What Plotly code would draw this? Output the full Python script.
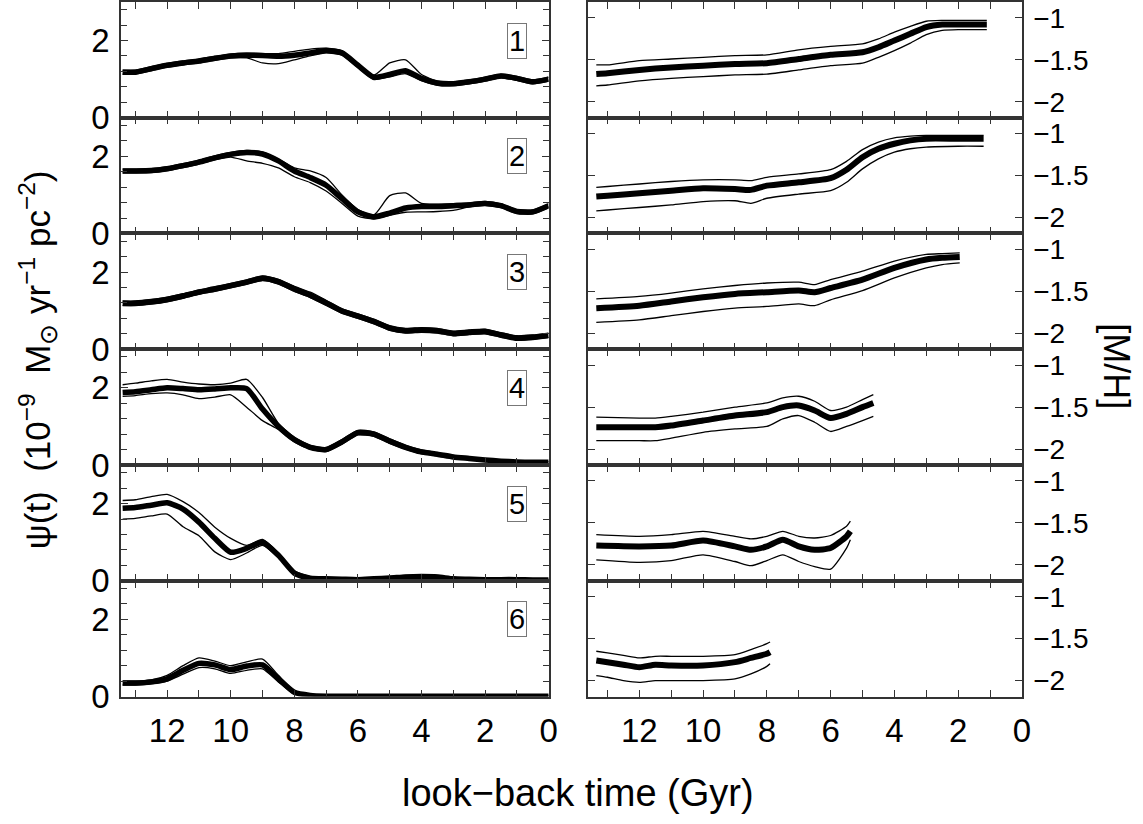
import plotly.graph_objects as go

# ---------------- data ----------------
T_LEFT = [13.4, 13, 12.5, 12, 11.5, 11, 10.5, 10, 9.5, 9, 8.5, 8, 7.5, 7, 6.5, 6,
          5.5, 5, 4.5, 4, 3.5, 3, 2.5, 2, 1.5, 1, 0.5, 0]

sfr1_main = [1.18, 1.18, 1.27, 1.36, 1.42, 1.47, 1.54, 1.60, 1.62, 1.61, 1.59, 1.62, 1.68, 1.74, 1.68, 1.36,
             1.05, 1.12, 1.22, 1.02, 0.90, 0.88, 0.93, 1.00, 1.08, 1.02, 0.93, 1.00]
sfr1_hi = [1.23, 1.23, 1.32, 1.41, 1.47, 1.52, 1.59, 1.65, 1.67, 1.66, 1.66, 1.72, 1.78, 1.80, 1.73, 1.41,
           1.10, 1.42, 1.50, 1.12, 0.95, 0.93, 0.98, 1.05, 1.13, 1.07, 0.98, 1.05]
sfr1_lo = [1.13, 1.13, 1.22, 1.31, 1.37, 1.42, 1.49, 1.55, 1.55, 1.42, 1.40, 1.50, 1.60, 1.68, 1.62, 1.30,
           0.99, 1.06, 1.14, 0.96, 0.84, 0.83, 0.88, 0.95, 1.03, 0.97, 0.88, 0.95]

sfr2_main = [1.62, 1.62, 1.63, 1.68, 1.76, 1.85, 1.96, 2.05, 2.10, 2.06, 1.88, 1.62, 1.45, 1.25, 0.90, 0.56,
             0.43, 0.53, 0.66, 0.70, 0.70, 0.72, 0.74, 0.78, 0.72, 0.57, 0.56, 0.72]
sfr2_hi = [1.67, 1.67, 1.68, 1.73, 1.81, 1.90, 2.01, 2.10, 2.15, 2.11, 1.93, 1.70, 1.62, 1.45, 1.00, 0.62,
           0.48, 0.98, 1.05, 0.78, 0.76, 0.77, 0.79, 0.83, 0.77, 0.62, 0.61, 0.77]
sfr2_lo = [1.57, 1.57, 1.58, 1.63, 1.71, 1.80, 1.91, 1.98, 1.88, 1.82, 1.70, 1.47, 1.32, 1.10, 0.78, 0.45,
           0.38, 0.47, 0.55, 0.56, 0.57, 0.60, 0.69, 0.73, 0.67, 0.52, 0.51, 0.67]

sfr3_main = [1.19, 1.19, 1.23, 1.29, 1.38, 1.48, 1.56, 1.65, 1.74, 1.84, 1.75, 1.56, 1.40, 1.20, 0.99, 0.86,
             0.72, 0.55, 0.48, 0.50, 0.48, 0.41, 0.44, 0.46, 0.37, 0.29, 0.31, 0.36]
sfr3_hi = [1.25, 1.25, 1.29, 1.35, 1.44, 1.54, 1.62, 1.71, 1.80, 1.90, 1.81, 1.63, 1.48, 1.27, 1.05, 0.92,
           0.78, 0.61, 0.54, 0.56, 0.54, 0.47, 0.50, 0.52, 0.43, 0.35, 0.37, 0.42]
sfr3_lo = [1.13, 1.13, 1.17, 1.23, 1.32, 1.42, 1.50, 1.59, 1.68, 1.78, 1.69, 1.50, 1.34, 1.14, 0.93, 0.80,
           0.66, 0.49, 0.42, 0.44, 0.42, 0.35, 0.38, 0.40, 0.31, 0.23, 0.25, 0.30]

sfr4_main = [1.88, 1.90, 1.95, 2.00, 1.98, 1.95, 1.97, 2.00, 1.98, 1.45, 1.00, 0.66, 0.46, 0.40, 0.60, 0.84,
             0.80, 0.62, 0.46, 0.34, 0.28, 0.21, 0.17, 0.13, 0.10, 0.08, 0.07, 0.07]
sfr4_hi = [2.08, 2.12, 2.18, 2.22, 2.15, 2.10, 2.08, 2.12, 2.22, 1.75, 1.08, 0.72, 0.51, 0.45, 0.66, 0.90,
           0.86, 0.68, 0.51, 0.39, 0.32, 0.25, 0.20, 0.16, 0.13, 0.11, 0.09, 0.09]
sfr4_lo = [1.78, 1.80, 1.85, 1.87, 1.82, 1.72, 1.76, 1.82, 1.50, 1.15, 0.92, 0.60, 0.41, 0.35, 0.54, 0.78,
           0.74, 0.56, 0.41, 0.29, 0.24, 0.17, 0.14, 0.10, 0.07, 0.05, 0.04, 0.04]

sfr5_main = [1.88, 1.90, 1.96, 2.02, 1.86, 1.52, 1.10, 0.74, 0.84, 1.00, 0.66, 0.20, 0.07, 0.05, 0.04, 0.03,
             0.05, 0.07, 0.10, 0.11, 0.10, 0.05, 0.04, 0.03, 0.03, 0.03, 0.02, 0.02]
sfr5_hi = [2.08, 2.10, 2.18, 2.24, 2.05, 1.77, 1.39, 1.10, 0.92, 1.07, 0.72, 0.26, 0.11, 0.08, 0.07, 0.06,
           0.08, 0.11, 0.14, 0.15, 0.14, 0.08, 0.07, 0.06, 0.05, 0.05, 0.04, 0.04]
sfr5_lo = [1.60, 1.62, 1.68, 1.73, 1.40, 1.17, 0.75, 0.55, 0.72, 0.92, 0.60, 0.15, 0.03, 0.01, 0.01, 0.00,
           0.02, 0.04, 0.06, 0.07, 0.06, 0.02, 0.01, 0.00, 0.00, 0.00, 0.00, 0.00]

sfr6_main = [0.35, 0.35, 0.38, 0.46, 0.68, 0.86, 0.82, 0.70, 0.79, 0.82, 0.46, 0.11, 0.03, 0.01, 0.01, 0.01,
             0.01, 0.01, 0.01, 0.01, 0.01, 0.01, 0.01, 0.01, 0.01, 0.01, 0.01, 0.01]
sfr6_hi = [0.40, 0.40, 0.43, 0.55, 0.80, 1.00, 0.92, 0.80, 0.90, 0.97, 0.55, 0.15, 0.05, 0.03, 0.03, 0.03,
           0.03, 0.03, 0.03, 0.03, 0.03, 0.03, 0.03, 0.03, 0.03, 0.03, 0.03, 0.03]
sfr6_lo = [0.30, 0.30, 0.33, 0.40, 0.58, 0.75, 0.72, 0.60, 0.68, 0.72, 0.38, 0.06, 0.01, 0.00, 0.00, 0.00,
           0.00, 0.00, 0.00, 0.00, 0.00, 0.00, 0.00, 0.00, 0.00, 0.00, 0.00, 0.00]

mh1_t = [13.35, 13, 12, 11, 10, 9, 8, 7, 6, 5, 4.5, 4, 3.5, 3, 2.5, 2, 1.5, 1.1]
mh1_main = [-1.67, -1.66, -1.62, -1.59, -1.57, -1.55, -1.54, -1.49, -1.44, -1.41, -1.35, -1.27, -1.19, -1.11, -1.08, -1.08, -1.08, -1.08]
mh1_hi = [-1.56, -1.56, -1.51, -1.49, -1.47, -1.45, -1.44, -1.38, -1.34, -1.31, -1.25, -1.17, -1.10, -1.04, -1.03, -1.03, -1.03, -1.03]
mh1_lo = [-1.81, -1.80, -1.75, -1.72, -1.70, -1.68, -1.67, -1.62, -1.57, -1.54, -1.47, -1.39, -1.30, -1.20, -1.15, -1.14, -1.14, -1.14]

mh2_t = [13.35, 13, 12, 11, 10, 9, 8.5, 8, 7, 6, 5.5, 5, 4.5, 4, 3.5, 3, 2, 1.2]
mh2_main = [-1.75, -1.74, -1.71, -1.68, -1.65, -1.66, -1.67, -1.62, -1.58, -1.53, -1.43, -1.28, -1.18, -1.12, -1.08, -1.06, -1.06, -1.06]
mh2_hi = [-1.64, -1.63, -1.60, -1.57, -1.55, -1.55, -1.56, -1.52, -1.48, -1.43, -1.33, -1.19, -1.10, -1.05, -1.03, -1.02, -1.02, -1.02]
mh2_lo = [-1.92, -1.91, -1.88, -1.85, -1.81, -1.80, -1.83, -1.77, -1.72, -1.68, -1.58, -1.42, -1.30, -1.22, -1.18, -1.16, -1.15, -1.15]

mh3_t = [13.35, 12, 11, 10, 9, 8, 7, 6.5, 6, 5, 4, 3, 2.5, 1.95]
mh3_main = [-1.70, -1.67, -1.62, -1.57, -1.53, -1.51, -1.49, -1.51, -1.46, -1.36, -1.22, -1.12, -1.10, -1.09]
mh3_hi = [-1.59, -1.56, -1.52, -1.47, -1.43, -1.40, -1.39, -1.42, -1.36, -1.26, -1.14, -1.06, -1.05, -1.04]
mh3_lo = [-1.87, -1.84, -1.79, -1.74, -1.70, -1.68, -1.65, -1.67, -1.60, -1.49, -1.34, -1.22, -1.18, -1.16]

mh4_t = [13.35, 12, 11.5, 11, 10, 9, 8, 7.5, 7, 6.5, 6, 5.5, 5, 4.66]
mh4_main = [-1.74, -1.74, -1.74, -1.72, -1.66, -1.60, -1.56, -1.50, -1.48, -1.54, -1.63, -1.58, -1.50, -1.45]
mh4_hi = [-1.62, -1.63, -1.63, -1.61, -1.56, -1.50, -1.45, -1.39, -1.37, -1.43, -1.54, -1.50, -1.41, -1.35]
mh4_lo = [-1.90, -1.90, -1.90, -1.87, -1.80, -1.76, -1.73, -1.64, -1.60, -1.68, -1.79, -1.73, -1.66, -1.61]

mh5_t = [13.35, 12, 11, 10, 9, 8.5, 8, 7.5, 7, 6.5, 6, 5.5, 5.38]
mh5_main = [-1.77, -1.78, -1.77, -1.71, -1.78, -1.82, -1.78, -1.70, -1.78, -1.82, -1.80, -1.66, -1.60]
mh5_hi = [-1.64, -1.66, -1.64, -1.60, -1.66, -1.69, -1.66, -1.60, -1.66, -1.68, -1.65, -1.54, -1.48]
mh5_lo = [-1.94, -1.97, -1.95, -1.88, -1.96, -2.01, -1.95, -1.88, -1.96, -2.02, -2.05, -1.80, -1.70]

mh6_t = [13.35, 13, 12.5, 12, 11.5, 11, 10, 9, 8.5, 8, 7.9]
mh6_main = [-1.76, -1.78, -1.81, -1.84, -1.81, -1.82, -1.82, -1.78, -1.73, -1.68, -1.66]
mh6_hi = [-1.65, -1.67, -1.70, -1.73, -1.71, -1.71, -1.71, -1.69, -1.63, -1.56, -1.54]
mh6_lo = [-1.94, -1.96, -2.00, -2.02, -2.00, -2.00, -2.00, -1.98, -1.92, -1.83, -1.80]

panel_labels = ["1", "2", "3", "4", "5", "6"]
x_tick_vals = [0, 2, 4, 6, 8, 10, 12]
x_tick_labels = ["0", "2", "4", "6", "8", "10", "12"]
left_y_ticks = [0, 2]
right_y_ticks = [-1, -1.5, -2]
right_y_labels = ["\u22121", "\u22121.5", "\u22122"]

left_series = [(sfr1_main, sfr1_hi, sfr1_lo), (sfr2_main, sfr2_hi, sfr2_lo), (sfr3_main, sfr3_hi, sfr3_lo),
               (sfr4_main, sfr4_hi, sfr4_lo), (sfr5_main, sfr5_hi, sfr5_lo), (sfr6_main, sfr6_hi, sfr6_lo)]
right_series = [(mh1_t, mh1_main, mh1_hi, mh1_lo), (mh2_t, mh2_main, mh2_hi, mh2_lo), (mh3_t, mh3_main, mh3_hi, mh3_lo),
                (mh4_t, mh4_main, mh4_hi, mh4_lo), (mh5_t, mh5_main, mh5_hi, mh5_lo), (mh6_t, mh6_main, mh6_hi, mh6_lo)]

# ---------------- figure ----------------
W, H = 1143, 824
FONT = "Liberation Sans"
AX = "#333333"
TICKFONT = 33
fig = go.Figure()
layout = dict(width=W, height=H, margin=dict(l=0, r=0, t=0, b=0), paper_bgcolor="white",
              plot_bgcolor="white", showlegend=False, font=dict(family=FONT, size=TICKFONT, color="black"))
annotations = []

def ax_names(k):
    return ("x" if k == 1 else f"x{k}", "y" if k == 1 else f"y{k}",
            "xaxis" if k == 1 else f"xaxis{k}", "yaxis" if k == 1 else f"yaxis{k}")

common = dict(showline=True, linecolor=AX, linewidth=1.5, mirror="allticks",
              ticks="inside", ticklen=7, tickcolor=AX, tickwidth=1.2,
              showgrid=False, zeroline=False)
xminor = dict(tick0=0, dtick=1, ticks="inside", ticklen=7, tickcolor=AX, showgrid=False)

top0, ph = 2.0, 118.5
for r in range(6):
    top = top0 + ph * r
    bot = top + ph
    ydom = [1 - bot / H, 1 - top / H]
    # left panel
    k = r + 1
    xa, ya, xk, yk = ax_names(k)
    main, hi, lo = left_series[r]
    for arr in (hi, lo):
        fig.add_trace(go.Scatter(x=T_LEFT, y=arr, mode="lines", xaxis=xa, yaxis=ya,
                                 line=dict(color="black", width=1.3, shape="spline", smoothing=0.6)))
    fig.add_trace(go.Scatter(x=T_LEFT, y=main, mode="lines", xaxis=xa, yaxis=ya,
                             line=dict(color="black", width=5.5, shape="spline", smoothing=0.6)))
    layout[xk] = dict(domain=[122 / W, 553 / W], range=[13.45, 0], anchor=ya,
                      tickvals=x_tick_vals, ticktext=x_tick_labels, minor=xminor,
                      tickfont=dict(size=TICKFONT),
                      showticklabels=(r == 5), ticklabelstandoff=4, **common)
    layout[yk] = dict(domain=ydom, range=[0, 3.0], anchor=xa,
                      tickvals=left_y_ticks, ticklabelstandoff=3, tickfont=dict(size=TICKFONT),
                      minor=dict(tick0=0, dtick=0.4, ticks="inside", ticklen=6, tickcolor=AX, showgrid=False),
                      **common)
    annotations.append(dict(x=1.0, y=2.0, xref=xa, yref=ya, text=panel_labels[r], showarrow=False,
                            xanchor="center", yanchor="middle",
                            font=dict(size=29, family=FONT), bordercolor="#777777", borderwidth=1,
                            borderpad=1, bgcolor="white"))
    # right panel
    k = r + 7
    xa, ya, xk, yk = ax_names(k)
    tt, main, hi, lo = right_series[r]
    for arr in (hi, lo):
        fig.add_trace(go.Scatter(x=tt, y=arr, mode="lines", xaxis=xa, yaxis=ya,
                                 line=dict(color="black", width=1.3, shape="spline", smoothing=0.6)))
    fig.add_trace(go.Scatter(x=tt, y=main, mode="lines", xaxis=xa, yaxis=ya,
                             line=dict(color="black", width=6, shape="spline", smoothing=0.6)))
    layout[xk] = dict(domain=[593 / W, 1030 / W], range=[13.6, 0], anchor=ya,
                      tickvals=x_tick_vals, ticktext=x_tick_labels, minor=xminor,
                      tickfont=dict(size=TICKFONT),
                      showticklabels=(r == 5), ticklabelstandoff=4, **common)
    layout[yk] = dict(domain=ydom, range=[-2.19, -0.81], anchor=xa, side="right",
                      tickvals=right_y_ticks, ticktext=right_y_labels, ticklabelstandoff=4,
                      tickfont=dict(size=28), **common)

annotations.append(dict(x=38 / W, y=1 - 368 / H, xref="paper", yref="paper", textangle=-90, showarrow=False,
                        xanchor="center", yanchor="middle",
                        text="\u03c8(t)  (10<sup>\u22129</sup>  M<sub>\u2299</sub> yr<sup>\u22121</sup> pc<sup>\u22122</sup>)",
                        font=dict(size=35, family=FONT)))
annotations.append(dict(x=1126 / W, y=1 - 375 / H, xref="paper", yref="paper", textangle=90, showarrow=False,
                        xanchor="center", yanchor="middle",
                        text="[M/H]", font=dict(size=36, family=FONT)))
annotations.append(dict(x=583 / W, y=1 - 812 / H, xref="paper", yref="paper", showarrow=False,
                        xanchor="center", yanchor="middle",
                        text="look\u2212back time (Gyr)", font=dict(size=38, family=FONT)))
layout["annotations"] = annotations
fig.update_layout(**layout)
fig.write_html("out.html")
